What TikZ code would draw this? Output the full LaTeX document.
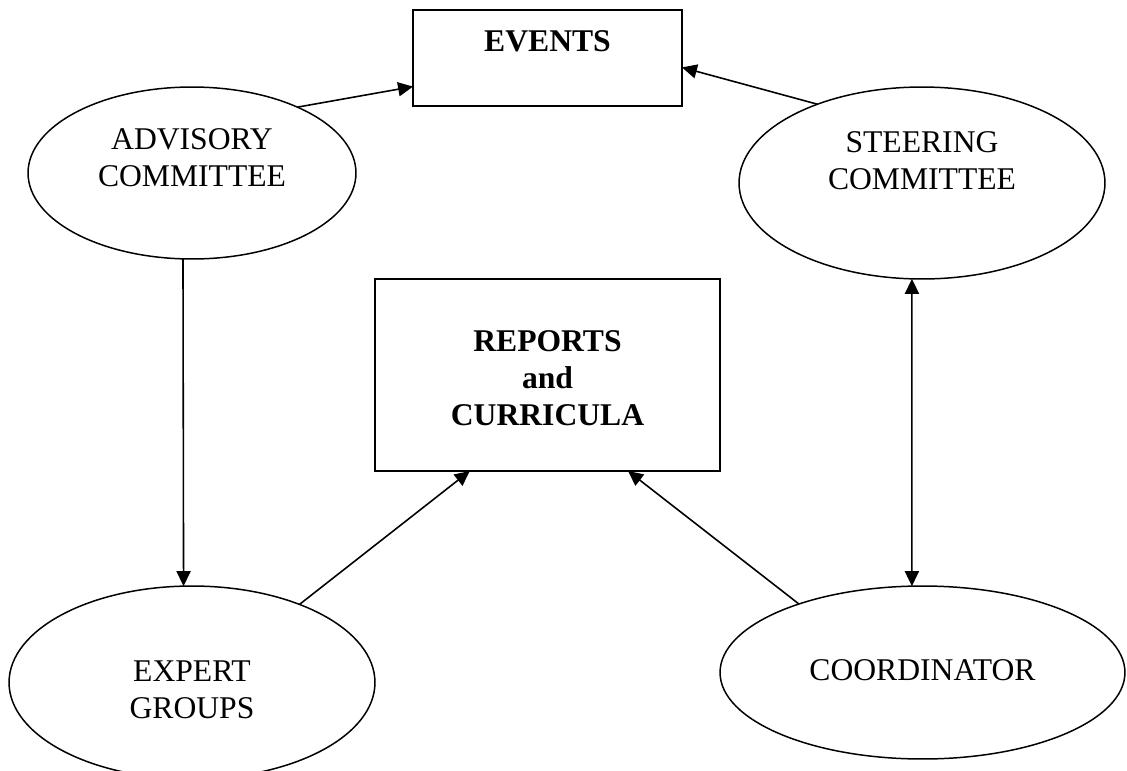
\documentclass[tikz,border=0pt]{standalone}
\usepackage{fontspec}
\setmainfont{Liberation Serif}
\usetikzlibrary{shapes.geometric,arrows.meta}
\tikzset{
  oval/.style={draw, ellipse, line width=0.85pt, inner sep=0pt, outer sep=0pt},
  boxnode/.style={draw, rectangle, line width=1.15pt, inner sep=0pt, outer sep=0pt},
  lbl/.style={align=center, inner sep=0pt, font=\fontsize{18}{21}\selectfont},
  blbl/.style={lbl, font=\fontsize{18}{21}\selectfont\bfseries},
  tip/.style={Triangle[length=8.5pt,width=8pt]},
  conn/.style={line width=0.9pt, -{Triangle[length=8.5pt,width=8pt]}},
  dconn/.style={line width=0.9pt, {Triangle[length=8.5pt,width=8pt]}-{Triangle[length=8.5pt,width=8pt]}}
}
\begin{document}
\begin{tikzpicture}[x=0.02cm, y=-0.02cm]
\useasboundingbox (0,0) rectangle (1127,771);
\clip (0,0) rectangle (1127,771);
\fill[white] (0,0) rectangle (1127,771);

% boxes
\node[boxnode, minimum width=5.38cm, minimum height=1.92cm] (events) at (547.5,58) {};
\node[blbl] (eventsT) at (547.5,41) {EVENTS};
\node[boxnode, minimum width=6.90cm, minimum height=3.84cm] (reports) at (547.5,375) {};
\node[blbl] (reportsT) at (547.5,378) {REPORTS\\and\\CURRICULA};

% ellipses
\node[oval, minimum width=6.56cm, minimum height=3.44cm] (adv) at (192,173) {};
\node[lbl] (advT) at (192,157.5) {ADVISORY\\COMMITTEE};
\node[oval, minimum width=7.32cm, minimum height=3.84cm] (steer) at (922,183) {};
\node[lbl] (steerT) at (922,161) {STEERING\\COMMITTEE};
\node[oval, minimum width=7.32cm, minimum height=3.86cm] (expert) at (192,682.5) {};
\node[lbl] (expertT) at (192,690) {EXPERT\\GROUPS};
\node[oval, minimum width=8.10cm, minimum height=3.46cm] (coord) at (922.5,672.5) {};
\node[lbl] (coordT) at (922.5,670) {COORDINATOR};

% connectors
\draw[conn] (adv.32.7) -- (events.192.2);
\draw[conn] (steer.143.4) -- (events.-4.25);
\draw[conn] (adv.-96) -- (expert.95.3);
\draw[conn] (expert.36.3) -- (reports.-129.6);
\draw[conn] (coord.151.4) -- (reports.-50.4);
\draw[dconn] (steer.-96) -- (coord.97);
\end{tikzpicture}
\end{document}
